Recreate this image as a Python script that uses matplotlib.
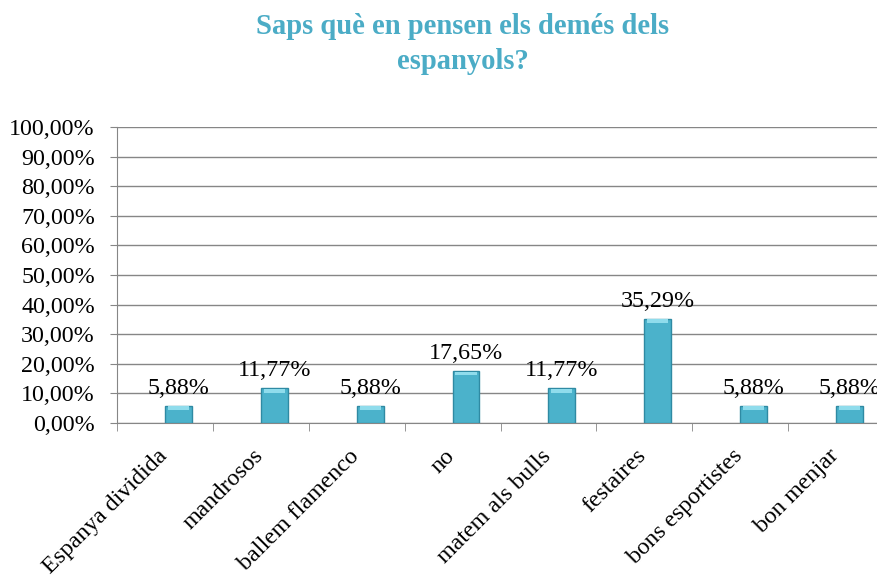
import matplotlib.pyplot as plt
import matplotlib.transforms as mtransforms
import numpy as np
from matplotlib.ticker import FuncFormatter

categories = ["Espanya dividida", "mandrosos", "ballem flamenco", "no",
              "matem als bulls", "festaires", "bons esportistes", "bon menjar"]
values = [5.88, 11.77, 5.88, 17.65, 11.77, 35.29, 5.88, 5.88]
title = "Saps què en pensen els demés dels\nespanyols?"

plt.rcParams['font.family'] = ['Liberation Serif', 'DejaVu Serif']

fig = plt.figure(figsize=(8.78, 5.75), dpi=100)
ax = fig.add_axes([0.1333, 0.2643, 0.8736, 0.5148])

x = np.arange(len(categories))
bar_w = 0.28

# main bar body, sitting just right of each category centre
ax.bar(x, values, width=bar_w, align='edge', color='#4bb2cb',
       edgecolor='#2f8aa3', linewidth=1.0, zorder=3)
# lighter cap on top of every bar for the bevelled look
cap = 1.3
ax.bar(x + 0.03, [cap] * len(values), bottom=np.array(values) - cap - 0.25,
       width=bar_w - 0.06, align='edge', color='#8fdcec', linewidth=0, zorder=4)

for xi, v in zip(x, values):
    ax.text(xi + bar_w / 2, v + 2.3, f"{v:.2f}%".replace('.', ','),
            ha='center', va='bottom', fontsize=17.3, color='black', zorder=5)

ax.set_ylim(0, 100)
ax.set_yticks(np.arange(0, 101, 10))
ax.yaxis.set_major_formatter(FuncFormatter(lambda v, p: f"{v:.2f}%".replace('.', ',')))
ax.set_xlim(-0.5, len(categories) - 0.5)

# slanted category names, anchored a bit below and left of each centre
ax.set_xticks([])
lbl_trans = ax.get_xaxis_transform() + mtransforms.ScaledTranslation(
    -0.01, -0.30, fig.dpi_scale_trans)
for xi, name in zip(x, categories):
    ax.text(xi, 0, name, transform=lbl_trans, rotation=45, rotation_mode='anchor',
            ha='right', va='center', fontsize=17.3, clip_on=False)

ax.set_xticks(np.arange(-0.5, len(categories), 1.0), minor=True)
ax.tick_params(axis='x', which='minor', length=6, color='#868686', direction='out')
ax.tick_params(axis='y', length=5, color='#868686', labelsize=17.3, pad=11)

ax.grid(axis='y', color='#868686', linewidth=1.0, zorder=0)
for s in ['top', 'right']:
    ax.spines[s].set_visible(False)
ax.spines['left'].set_color('#868686')
ax.spines['bottom'].set_color('#868686')

fig.text(0.527, 0.977, title, ha='center', va='top', fontsize=20.6,
         fontweight='bold', color='#4bacc6', linespacing=1.35)

fig.savefig('out.png', dpi=100)
